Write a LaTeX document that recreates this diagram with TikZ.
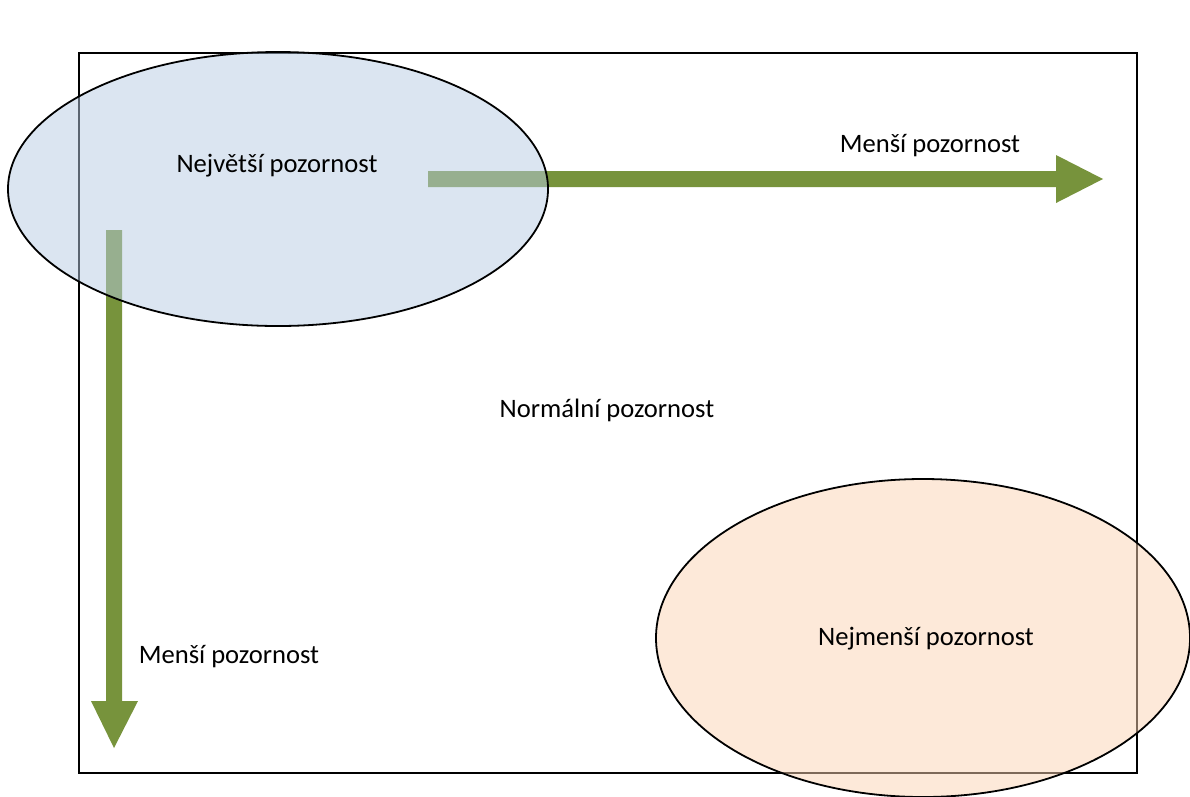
\documentclass[tikz,border=0pt]{standalone}
\usepackage{fontspec}
\setmainfont{Carlito}
\usetikzlibrary{shapes.geometric}
\definecolor{arrowgreen}{HTML}{77933C}
\definecolor{bluefill}{RGB}{183,203,227}
\definecolor{orangefill}{RGB}{251,211,179}
\tikzset{
  frame/.style={draw=black, line width=1.8pt},
  blob/.style={ellipse, draw=black, line width=1.8pt, inner sep=0pt, fill opacity=0.5},
  fatarrow/.style={fill=arrowgreen, draw=none},
  lbl/.style={anchor=base, inner sep=0pt, font=\fontsize{26.6}{30}\selectfont}
}
\begin{document}
\begin{tikzpicture}[x=1pt,y=-1pt]
\useasboundingbox (0,0) rectangle (1190,796);
% frame
\node[frame, minimum width=1058pt, minimum height=720pt, inner sep=0pt, anchor=north west] (frm) at (78,52) {};
% arrows (under the ellipses)
\coordinate (hs) at (428,179);
\coordinate (ht) at (1103,179);
\fill[fatarrow] (hs) ++(0,-8) -- (1056,171) -- (1056,155) -- (ht) -- (1056,203) -- (1056,187) -- (428,187) -- cycle;
\coordinate (vs) at (114,230);
\coordinate (vt) at (114,748);
\fill[fatarrow] (vs) ++(-8,0) -- (106,701) -- (91,701) -- (vt) -- (138,701) -- (122,701) -- (122,230) -- cycle;
% ellipses
\node[blob, fill=bluefill, minimum width=540pt, minimum height=274pt] (big) at (278,189) {};
\node[blob, fill=orangefill, minimum width=534pt, minimum height=318pt] (small) at (923,638) {};
% labels
\node[lbl] (t1) at (277,172) {Největší pozornost};
\node[lbl] (t2) at (930,152) {Menší pozornost};
\node[lbl] (t3) at (607,417) {Normální pozornost};
\node[lbl] (t4) at (926,645) {Nejmenší pozornost};
\node[lbl] (t5) at (229,663) {Menší pozornost};
\end{tikzpicture}
\end{document}
